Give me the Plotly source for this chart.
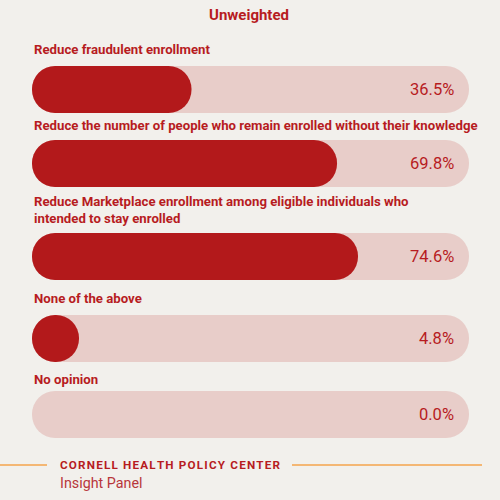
import plotly.graph_objects as go

# survey answers (unweighted share of respondents, %)
options = [
    "Reduce fraudulent enrollment",
    "Reduce the number of people who remain enrolled without their knowledge",
    "Reduce Marketplace enrollment among eligible individuals who<br>intended to stay enrolled",
    "None of the above",
    "No opinion",
]
shares = [36.5, 69.8, 74.6, 4.8, 0.0]
pct_labels = [f"{v:.1f}%" for v in shares]

# layout (y in px from top, axis runs 500 -> 0)
bar_y = [89.5, 163.5, 256.5, 338.5, 414.5]
label_y = [49, 125, 209.5, 298, 379]
BAR_H = 47
X0_PX, X1_PX = 32, 469

RED = "#b3191b"
TRACK = "#e8cdc9"
TEXT = "#b71c1f"
BG = "#f2f0ec"

# pill needs at least its own height as length
min_len = BAR_H / (X1_PX - X0_PX) * 100
fill_len = [max(v, min_len) if v > 0 else 0 for v in shares]

fig = go.Figure()


def add_pill(lengths, color):
    fig.add_trace(go.Bar(
        y=bar_y, x=lengths, base=[0] * len(lengths),
        orientation="h", width=BAR_H,
        marker=dict(color=color, cornerradius=BAR_H / 2, line=dict(width=0)),
        hoverinfo="skip", showlegend=False,
    ))


add_pill([100] * len(shares), TRACK)
add_pill(fill_len, RED)

for lab, ly, pct, by in zip(options, label_y, pct_labels, bar_y):
    fig.add_annotation(x=0, y=ly, xref="x", yref="y", text=f"<b>{lab}</b>",
                       xanchor="left", yanchor="middle", align="left", showarrow=False,
                       font=dict(family="Roboto", size=13.2, color=TEXT))
    fig.add_annotation(x=100, y=by, xref="x", yref="y", text=pct,
                       xanchor="right", yanchor="middle", xshift=-13, showarrow=False,
                       font=dict(family="Roboto", size=16.5, color=TEXT))

fig.add_annotation(x=0.497, y=15, xref="paper", yref="y", text="<b>Unweighted</b>",
                   showarrow=False, font=dict(family="Roboto", size=15, color=TEXT))

# footer
spaced = "\u200a".join("CORNELL HEALTH POLICY CENTER")
fig.add_shape(type="line", xref="paper", yref="paper", x0=0, x1=0.094, y0=0.07, y1=0.07,
              line=dict(color="#f5a54d", width=1.5))
fig.add_shape(type="line", xref="paper", yref="paper", x0=0.584, x1=0.964, y0=0.07, y1=0.07,
              line=dict(color="#f5a54d", width=1.5))
fig.add_annotation(x=0.12, y=465, xref="paper", yref="y", xanchor="left", xshift=-2,
                   text=f"<b>{spaced}</b>", showarrow=False,
                   font=dict(family="Roboto", size=11.7, color=TEXT))
fig.add_annotation(x=0.12, y=483, xref="paper", yref="y", xanchor="left", xshift=-2,
                   text="Insight Panel", showarrow=False,
                   font=dict(family="Roboto", size=14.3, color="#b8363b"))

fig.update_layout(
    width=500, height=500, margin=dict(l=0, r=0, t=0, b=0),
    paper_bgcolor=BG, plot_bgcolor=BG, barmode="overlay",
    xaxis=dict(range=[0, 100], domain=[X0_PX / 500, X1_PX / 500], visible=False, fixedrange=True),
    yaxis=dict(range=[500, 0], visible=False, fixedrange=True),
)

fig.write_html("out.html", config={"displayModeBar": False},
               post_script="document.body.style.margin='0';")
